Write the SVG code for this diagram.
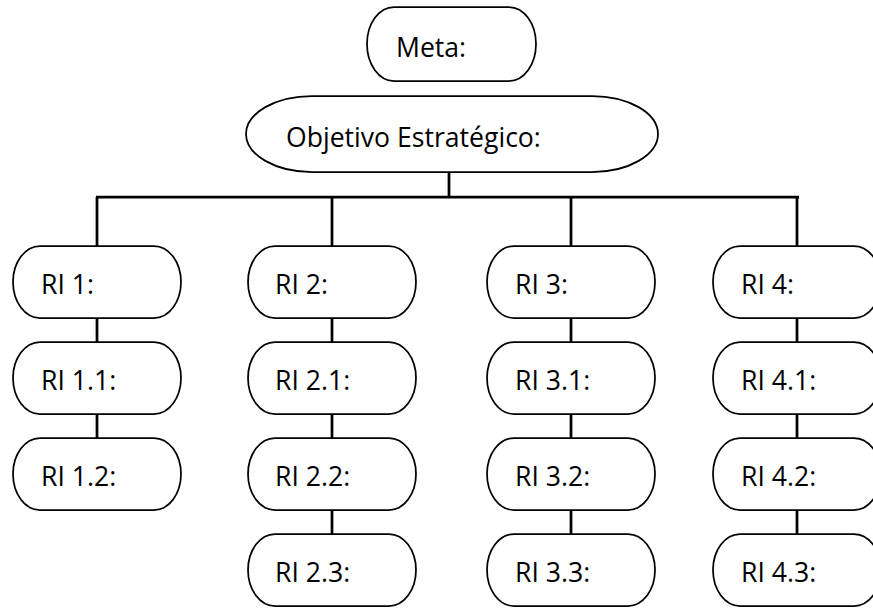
<svg xmlns="http://www.w3.org/2000/svg" width="873" height="611" viewBox="0 0 873 611">
  <style>
    .box { fill: #ffffff; stroke: #000000; stroke-width: 1.75; }
    .lbl { font-family: "Open Sans", "Noto Sans", "Liberation Sans", sans-serif; font-size: 26.6px; fill: #000000; }
    .link { stroke: #000000; stroke-width: 2.75; fill: none; }
  </style>
  <defs>
    <!-- terminator shape, 168 x 72, half-ellipse ends -->
    <path id="ri" d="M27,0 H141 A27,36 0 0 1 141,72 H27 A27,36 0 0 1 27,0 Z"/>
  </defs>
  <rect width="873" height="611" fill="#ffffff"/>

  <!-- connectors -->
  <g id="connectors">
    <line class="link" x1="449" y1="172" x2="449" y2="197"/>
    <line class="link" x1="96" y1="197" x2="799" y2="197"/>
    <!-- column 1 -->
    <line class="link" x1="97" y1="197" x2="97" y2="246"/>
    <line class="link" x1="97" y1="318" x2="97" y2="342"/>
    <line class="link" x1="97" y1="414" x2="97" y2="438"/>
    <!-- column 2 -->
    <line class="link" x1="332" y1="197" x2="332" y2="246"/>
    <line class="link" x1="332" y1="318" x2="332" y2="342"/>
    <line class="link" x1="332" y1="414" x2="332" y2="438"/>
    <line class="link" x1="332" y1="510" x2="332" y2="534"/>
    <!-- column 3 -->
    <line class="link" x1="571" y1="197" x2="571" y2="246"/>
    <line class="link" x1="571" y1="318" x2="571" y2="342"/>
    <line class="link" x1="571" y1="414" x2="571" y2="438"/>
    <line class="link" x1="571" y1="510" x2="571" y2="534"/>
    <!-- column 4 -->
    <line class="link" x1="797" y1="197" x2="797" y2="246"/>
    <line class="link" x1="797" y1="318" x2="797" y2="342"/>
    <line class="link" x1="797" y1="414" x2="797" y2="438"/>
    <line class="link" x1="797" y1="510" x2="797" y2="534"/>
  </g>

  <g id="meta">
    <path class="box" d="M394,7 H509 A27,37 0 0 1 509,81 H394 A27,37 0 0 1 394,7 Z"/>
    <text class="lbl" x="396" y="57">Meta:</text>
  </g>

  <g id="objetivo">
    <path class="box" d="M312,96 H592 A66,38 0 0 1 592,172 H312 A66,38 0 0 1 312,96 Z"/>
    <text class="lbl" x="286" y="147">Objetivo Estratégico:</text>
  </g>

  <!-- column 1 -->
  <g id="ri1"><use href="#ri" class="box" x="13" y="246"/><text class="lbl" x="41" y="294">RI 1:</text></g>
  <g id="ri1-1"><use href="#ri" class="box" x="13" y="342"/><text class="lbl" x="41" y="390">RI 1.1:</text></g>
  <g id="ri1-2"><use href="#ri" class="box" x="13" y="438"/><text class="lbl" x="41" y="486">RI 1.2:</text></g>

  <!-- column 2 -->
  <g id="ri2"><use href="#ri" class="box" x="248" y="246"/><text class="lbl" x="275" y="294">RI 2:</text></g>
  <g id="ri2-1"><use href="#ri" class="box" x="248" y="342"/><text class="lbl" x="275" y="390">RI 2.1:</text></g>
  <g id="ri2-2"><use href="#ri" class="box" x="248" y="438"/><text class="lbl" x="275" y="486">RI 2.2:</text></g>
  <g id="ri2-3"><use href="#ri" class="box" x="248" y="534"/><text class="lbl" x="275" y="582">RI 2.3:</text></g>

  <!-- column 3 -->
  <g id="ri3"><use href="#ri" class="box" x="487" y="246"/><text class="lbl" x="515" y="294">RI 3:</text></g>
  <g id="ri3-1"><use href="#ri" class="box" x="487" y="342"/><text class="lbl" x="515" y="390">RI 3.1:</text></g>
  <g id="ri3-2"><use href="#ri" class="box" x="487" y="438"/><text class="lbl" x="515" y="486">RI 3.2:</text></g>
  <g id="ri3-3"><use href="#ri" class="box" x="487" y="534"/><text class="lbl" x="515" y="582">RI 3.3:</text></g>

  <!-- column 4 -->
  <g id="ri4"><use href="#ri" class="box" x="713" y="246"/><text class="lbl" x="741" y="294">RI 4:</text></g>
  <g id="ri4-1"><use href="#ri" class="box" x="713" y="342"/><text class="lbl" x="741" y="390">RI 4.1:</text></g>
  <g id="ri4-2"><use href="#ri" class="box" x="713" y="438"/><text class="lbl" x="741" y="486">RI 4.2:</text></g>
  <g id="ri4-3"><use href="#ri" class="box" x="713" y="534"/><text class="lbl" x="741" y="582">RI 4.3:</text></g>
</svg>
